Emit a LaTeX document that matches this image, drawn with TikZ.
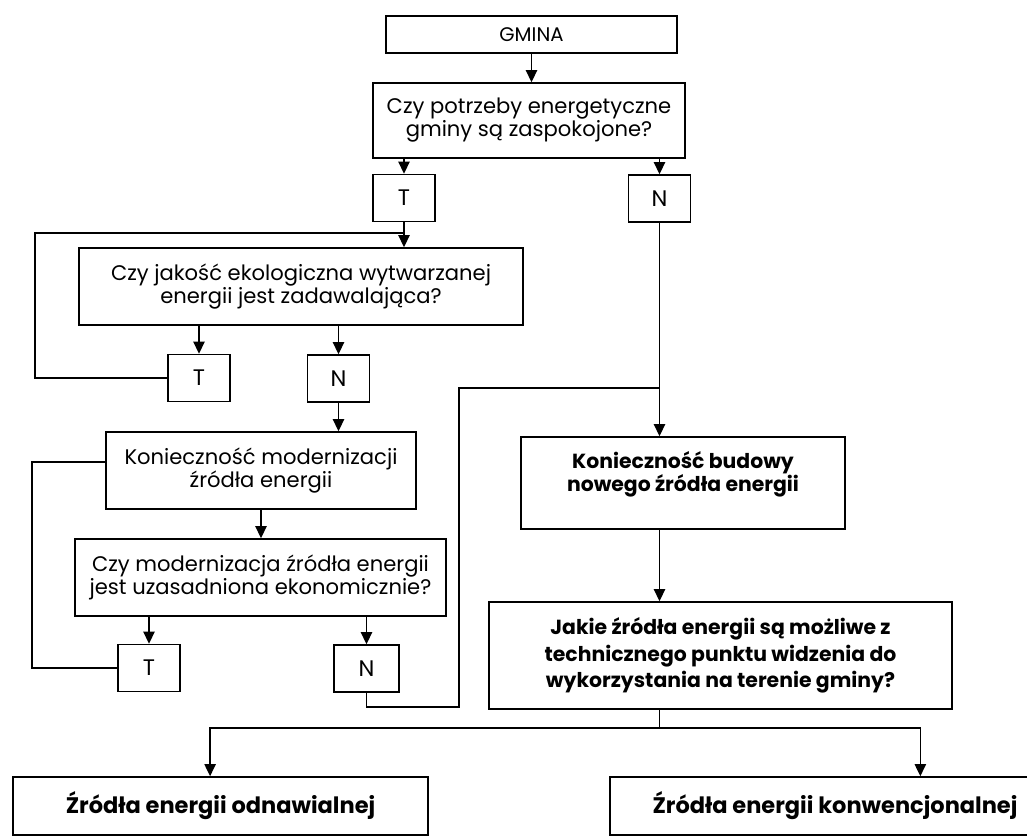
\documentclass[tikz,border=0pt]{standalone}
\usepackage{fontspec}
\setmainfont{Poppins}
\usetikzlibrary{arrows.meta,calc}
\begin{document}
\begin{tikzpicture}[x=0.025cm, y=-0.025cm]
	\tikzset{blok/.style={rectangle, draw=black, line width=1.1pt, inner sep=0pt, align=center, font=\fontsize{15}{16.4}\selectfont},
		blokb/.style={blok, font=\bfseries\fontsize{14.5}{19}\selectfont},
		wym/.style 2 args={minimum width=#1*0.025cm, minimum height=#2*0.025cm},
		odp/.style={blok, wym={62}{47}, font=\fontsize{16}{16}\selectfont},
		strz/.style={line width=1.1pt, -{Triangle[length=0.3cm, width=0.28cm]}},
		linia/.style={line width=1.1pt}}
	\useasboundingbox (0,0) rectangle (1027,836);

	\node[blok, wym={291}{37}, font=\fontsize{14}{15}\selectfont] at (531.5, 34.5) (gmina) {GMINA};
	\node[blok, wym={312}{75}] at (529, 120.5) (potrzeby) {Czy potrzeby energetyczne\\gminy są zaspokojone?};
	\node[odp] at (404, 198) (t1) {T};
	\node[odp] at (659.5, 198.5) (n1) {N};
	\node[blok, wym={444}{77}] at (301, 286.5) (jakosc) {Czy jakość ekologiczna wytwarzanej\\energii jest zadawalająca?};
	\node[odp] at (199, 378) (t2) {T};
	\node[odp] at (338.5, 378.5) (n2) {N};
	\node[blok, wym={310}{77}] at (261, 470.5) (modern) {Konieczność modernizacji\\źródła energii};
	\node[blok, wym={371}{77}] at (260.5, 577.5) (uzasad) {Czy modernizacja źródła energii\\jest uzasadniona ekonomicznie?};
	\node[odp] at (149, 668) (t3) {T};
	\node[odp, wym={65}{47}] at (366.5, 668.5) (n3) {N};
	\node[blokb, wym={324}{92}, font=\bfseries\fontsize{14.5}{16.4}\selectfont] at (683, 483) (budowy) {Konieczność budowy\\nowego źródła energii\\\mbox{}};
	\node[blokb, wym={463}{107}] at (720.5, 655.5) (jakie) {Jakie źródła energii są możliwe z\\technicznego punktu widzenia do\\wykorzystania na terenie gminy?};
	\node[blokb, wym={415}{58}, font=\bfseries\fontsize{16}{16}\selectfont] at (220.5, 806) (odnaw) {Źródła energii odnawialnej};
	\node[blokb, wym={450}{58}, font=\bfseries\fontsize{16}{16}\selectfont] at (835, 806) (konw) {Źródła energii konwencjonalnej};

	% strzalki w dol
	\draw[strz] (gmina.south) -- (gmina.south |- potrzeby.north);
	\draw[strz] (t1.north |- potrzeby.south) -- (t1.north);
	\draw[strz] (n1.north |- potrzeby.south) -- (n1.north);
	\draw[strz] (t1.south) -- (t1.south |- jakosc.north);
	\draw[strz] (t2.north |- jakosc.south) -- (t2.north);
	\draw[strz] (n2.north |- jakosc.south) -- (n2.north);
	\draw[strz] (n2.south) -- (n2.south |- modern.north);
	\draw[strz] (modern.south) -- (modern.south |- uzasad.north);
	\draw[strz] (t3.north |- uzasad.south) -- (t3.north);
	\draw[strz] (n3.north |- uzasad.south) -- (n3.north);
	\draw[strz] (n1.south) -- (n1.south |- budowy.north);
	\draw[strz] (n1.south |- budowy.south) -- (n1.south |- jakie.north);

	% petle powrotne
	\coordinate (p1) at (35, 233);
	\coordinate (p2) at (32, 462);
	\coordinate (p3) at (459, 707);
	\coordinate (p4) at (459, 388);
	\draw[linia] (t2.west) -| (p1) -- (p1 -| t1.south);
	\draw[linia] (t3.west) -| (p2) -- (p2 -| modern.west);
	\draw[linia] (n3.south) |- (p3) -- (p4) -- (p4 -| n1.south);

	% rozgalezienie
	\coordinate (rozw) at (n1.south |- 0,728);
	\draw[linia] (n1.south |- jakie.south) -- (rozw);
	\draw[strz] (rozw) -| ($(odnaw.north west)!0.475!(odnaw.north east)$);
	\draw[strz] (rozw) -| ($(konw.north west)!0.689!(konw.north east)$);
\end{tikzpicture}
\end{document}
